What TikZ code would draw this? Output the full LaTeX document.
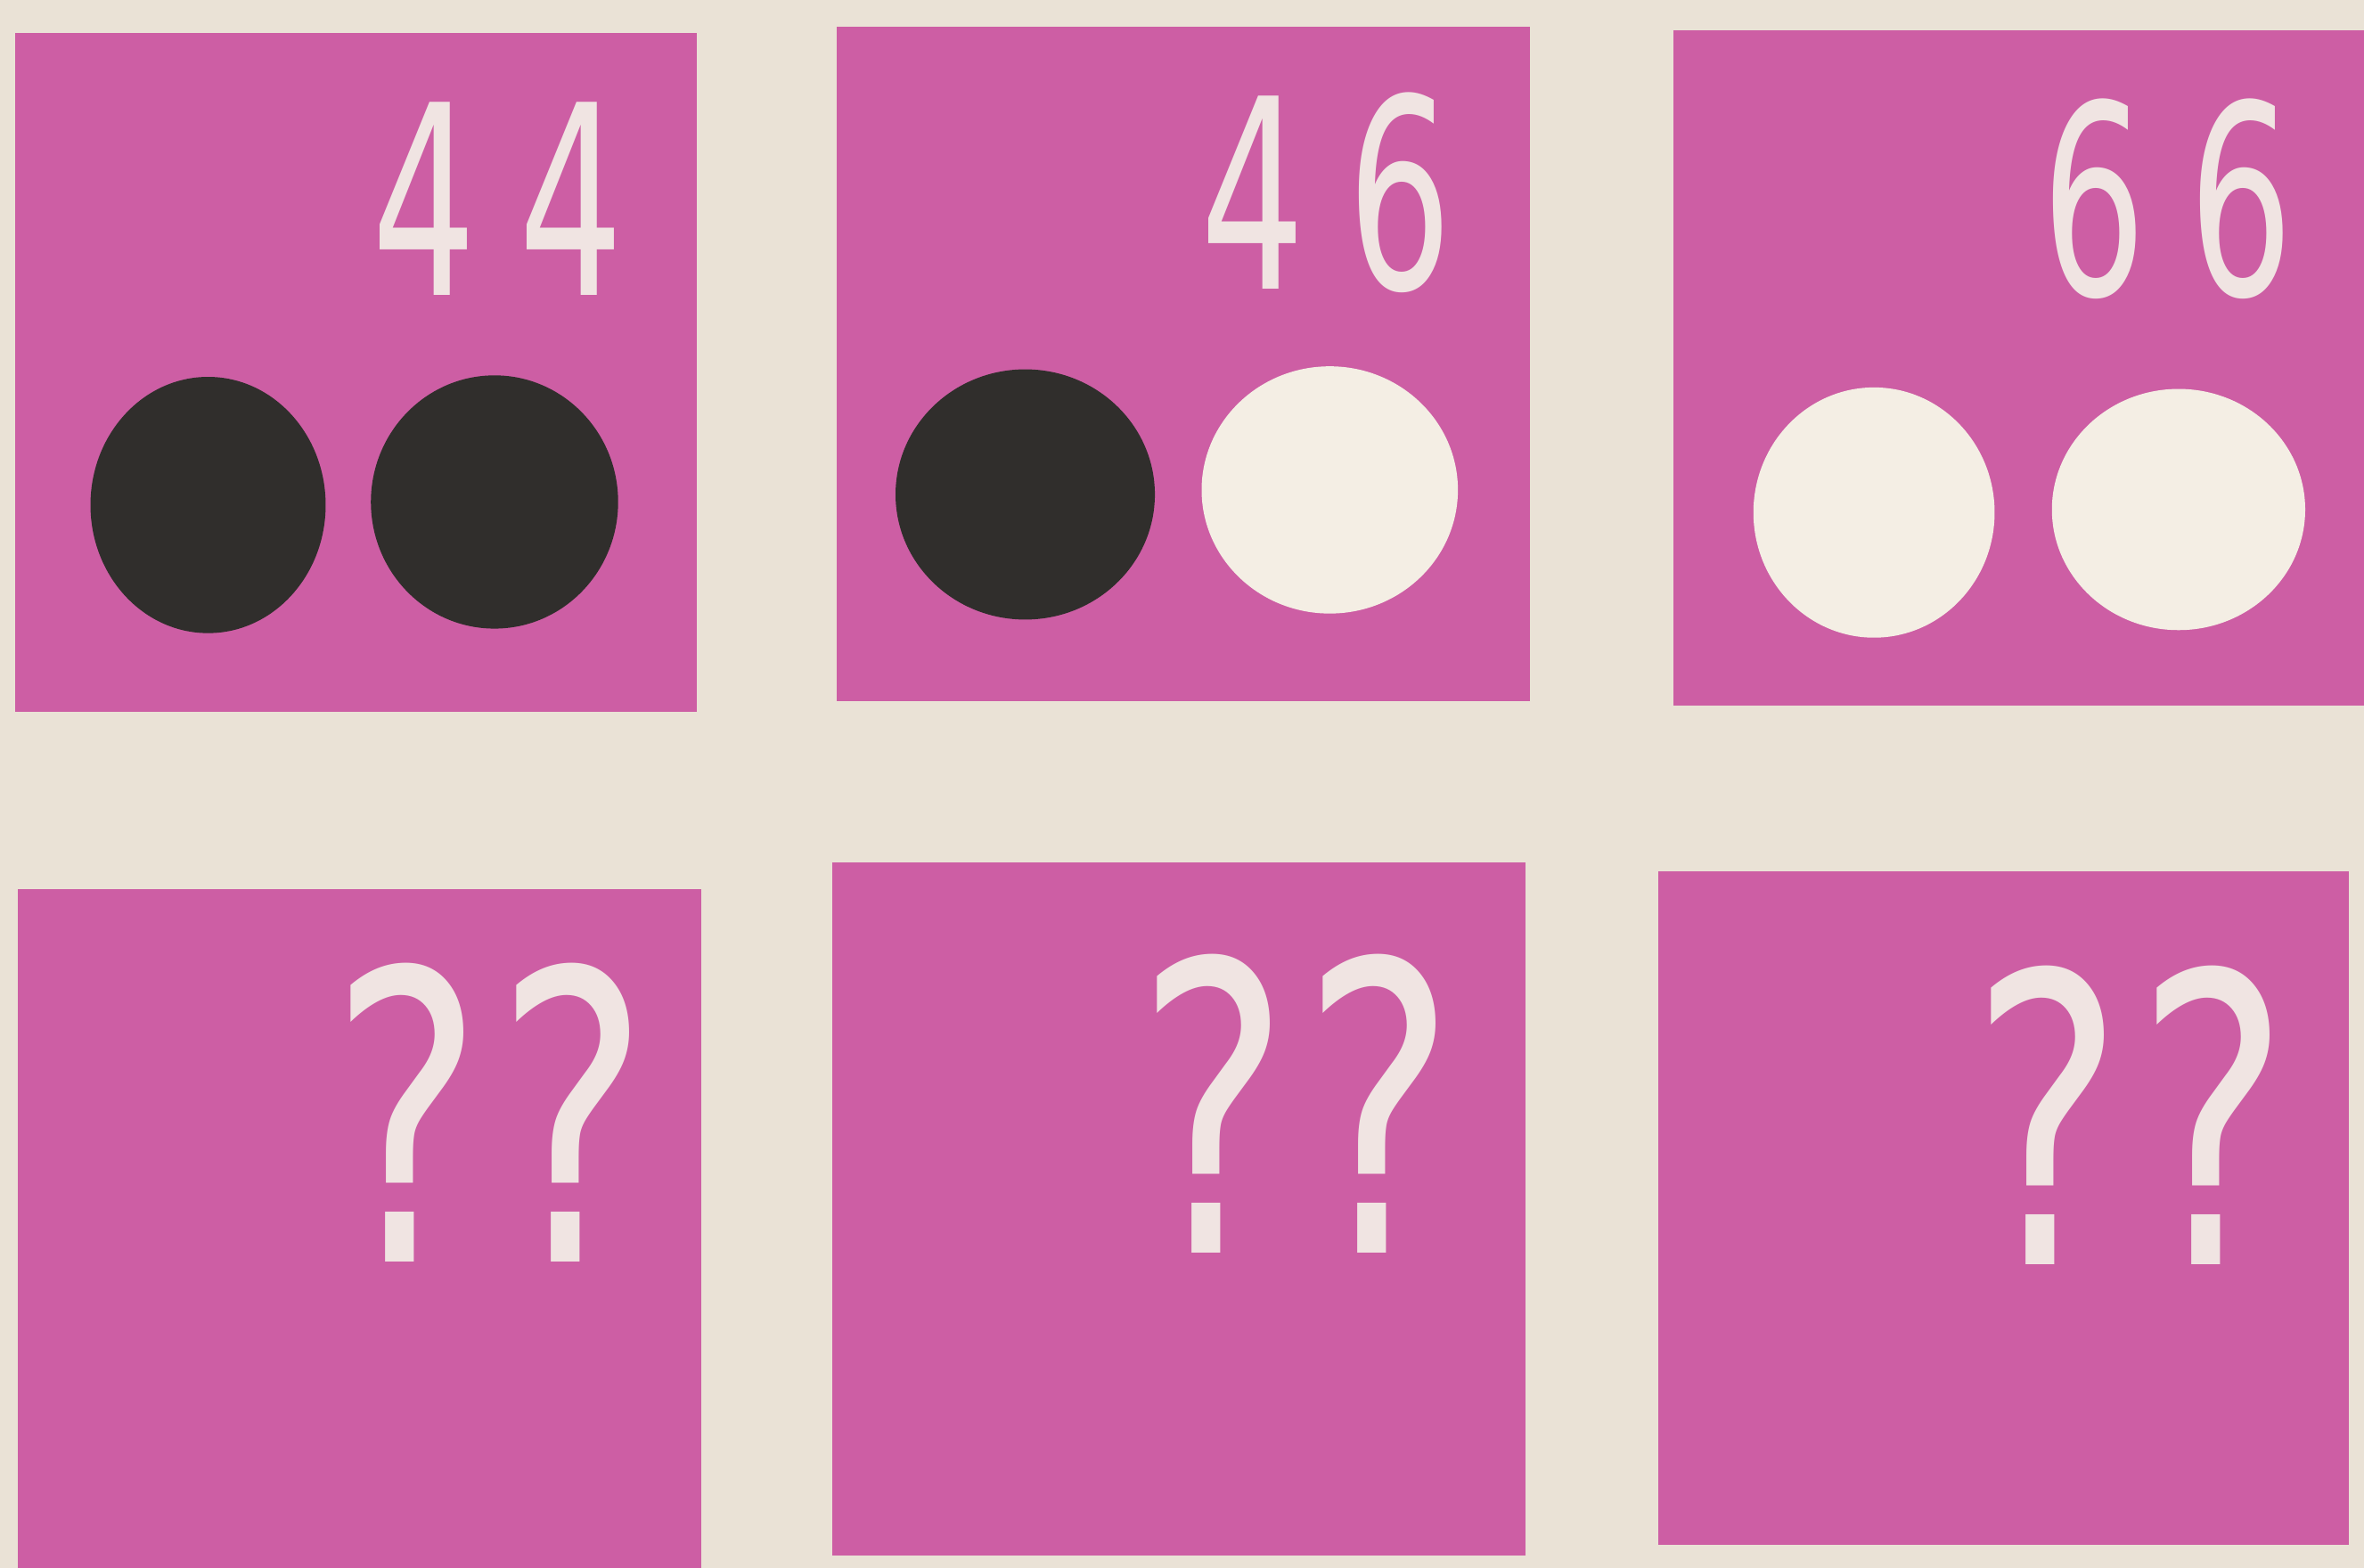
\documentclass[tikz,border=0pt]{standalone}
\usepackage{fontspec}
\newfontfamily\digitfont{DejaVu Sans}
\definecolor{paper}{RGB}{234,226,214}
\definecolor{card}{RGB}{205,94,164}
\definecolor{ink}{RGB}{48,46,44}
\definecolor{chalk}{RGB}{244,238,228}
\definecolor{numwhite}{RGB}{240,228,226}
\begin{document}
\begin{tikzpicture}[x=0.1mm,y=-0.1mm,
  cardbox/.style={fill=card,draw=none},
  darkdot/.style={fill=ink},
  lightdot/.style={fill=chalk},
  digits/.style={text=numwhite,inner sep=0pt,xscale=0.62,font=\digitfont\fontsize{50}{50}\selectfont},
  quest/.style={text=numwhite,inner sep=0pt,xscale=0.72,font=\digitfont\fontsize{76}{76}\selectfont}]
\fill[paper] (0,0) rectangle (1568,1040);
\useasboundingbox (0,0) rectangle (1568,1040);
% cards
\path[cardbox] (10,22) rectangle (462,472) node[pos=0.5] (c1) {};
\path[cardbox] (555,18) rectangle (1015,465) node[pos=0.5] (c2) {};
\path[cardbox] (1110,20) rectangle (1568,468) node[pos=0.5] (c3) {};
\path[cardbox] (12,590) rectangle (465,1040) node[pos=0.5] (c4) {};
\path[cardbox] (552,572) rectangle (1012,1032) node[pos=0.5] (c5) {};
\path[cardbox] (1100,578) rectangle (1558,1025) node[pos=0.5] (c6) {};
% dots
\path[darkdot] (138,335) ellipse [x radius=78,y radius=85];
\path[darkdot] (328,333) ellipse [x radius=82,y radius=84];
\path[darkdot] (680,328) ellipse [x radius=86,y radius=83];
\path[lightdot] (882,325) ellipse [x radius=85,y radius=82];
\path[lightdot] (1243,340) ellipse [x radius=80,y radius=83];
\path[lightdot] (1445,338) ellipse [x radius=84,y radius=80];
% numbers
\node[digits] (n1) at (330,132) {4\hspace{13pt}4};
\node[digits] (n2) at (880,128) {4\hspace{13pt}6};
\node[digits] (n3) at (1438,132) {6\hspace{13pt}6};
% question marks
\node[quest] (q1) at (325,738) {?\hspace{3pt}?};
\node[quest] (q2) at (860,732) {?\hspace{3pt}?};
\node[quest] (q3) at (1413,740) {?\hspace{3pt}?};
\end{tikzpicture}
\end{document}
